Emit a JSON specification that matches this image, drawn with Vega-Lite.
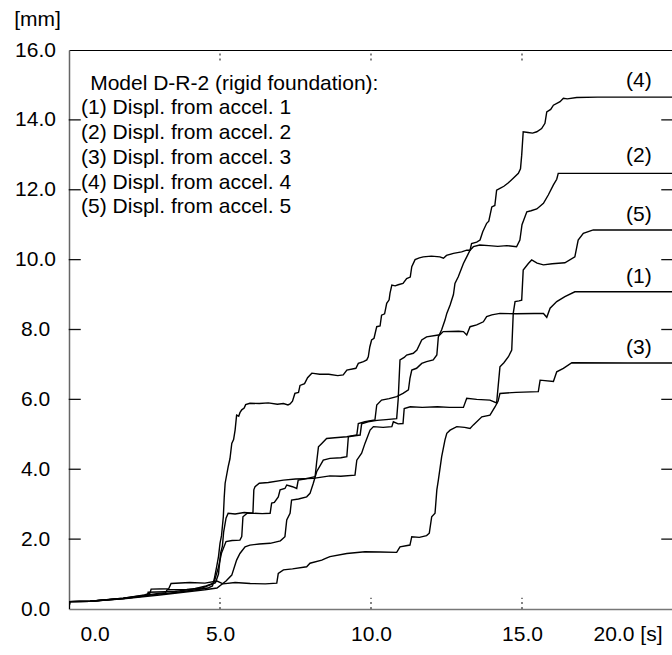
{
  "$schema": "https://vega.github.io/schema/vega-lite/v6.json",
  "autosize": "none",
  "padding": {"left": 69, "top": 50, "right": 0, "bottom": 46},
  "width": 604,
  "height": 559,
  "background": "white",
  "config": {
    "view": {"stroke": null},
    "font": "Liberation Sans",
    "axis": {"labelFont": "Liberation Sans", "labelFontSize": 21, "labelColor": "#000", "titleFont": "Liberation Sans", "grid": false}
  },
  "resolve": {"axis": {"x": "independent", "y": "independent"}},
  "layer": [
    {
      "data": {"values": [{"v": 2}, {"v": 4}, {"v": 6}, {"v": 8}, {"v": 10}, {"v": 12}, {"v": 14}]},
      "mark": {"type": "tick", "orient": "horizontal", "color": "#111", "thickness": 1.3, "size": 12, "opacity": 1},
      "encoding": {
        "y": {"field": "v", "type": "quantitative", "scale": {"domain": [0, 16], "nice": false, "zero": false}, "axis": null},
        "x": {"datum": 0.19, "type": "quantitative", "scale": {"domain": [0, 20], "nice": false, "zero": false}, "axis": null}
      }
    },
    {
      "data": {"values": [{"v": 2}, {"v": 4}, {"v": 6}, {"v": 8}, {"v": 10}, {"v": 12}, {"v": 14}]},
      "mark": {"type": "tick", "orient": "horizontal", "color": "#111", "thickness": 1.3, "size": 12, "opacity": 1},
      "encoding": {
        "y": {"field": "v", "type": "quantitative", "scale": {"domain": [0, 16], "nice": false, "zero": false}, "axis": null},
        "x": {"datum": 19.81, "type": "quantitative", "scale": {"domain": [0, 20], "nice": false, "zero": false}, "axis": null}
      }
    },
    {
      "data": {"values": [{"t": 5}, {"t": 10}, {"t": 15}]},
      "mark": {"type": "rule", "color": "#333", "strokeWidth": 1.2, "strokeDash": [2, 3]},
      "encoding": {
        "x": {"field": "t", "type": "quantitative", "scale": {"domain": [0, 20], "nice": false, "zero": false}, "axis": null},
        "y": {"datum": 0, "type": "quantitative", "scale": {"domain": [0, 16], "nice": false, "zero": false}, "axis": null},
        "y2": {"datum": 0.32}
      }
    },
    {
      "data": {"values": [{"t": 5}, {"t": 10}, {"t": 15}]},
      "mark": {"type": "rule", "color": "#333", "strokeWidth": 1.2, "strokeDash": [2, 3]},
      "encoding": {
        "x": {"field": "t", "type": "quantitative", "scale": {"domain": [0, 20], "nice": false, "zero": false}, "axis": null},
        "y": {"datum": 15.7, "type": "quantitative", "scale": {"domain": [0, 16], "nice": false, "zero": false}, "axis": null},
        "y2": {"datum": 16}
      }
    },
    {
      "data": {"values": [
        {"c":"4","t":0,"v":0},{"c":"4","t":0.02,"v":0.21},{"c":"4","t":0.7,"v":0.22},{"c":"4","t":1.8,"v":0.3},{"c":"4","t":2.9,"v":0.42},{"c":"4","t":3.6,"v":0.48},{"c":"4","t":4.2,"v":0.55},{"c":"4","t":4.6,"v":0.6},{"c":"4","t":4.75,"v":0.66},{"c":"4","t":4.82,"v":0.9},{"c":"4","t":4.89,"v":1.21},{"c":"4","t":4.95,"v":1.5},{"c":"4","t":5.0,"v":1.88},{"c":"4","t":5.05,"v":2.1},{"c":"4","t":5.11,"v":2.64},{"c":"4","t":5.14,"v":3.2},{"c":"4","t":5.17,"v":3.6},{"c":"4","t":5.27,"v":4.07},{"c":"4","t":5.33,"v":4.3},{"c":"4","t":5.39,"v":4.74},{"c":"4","t":5.45,"v":4.85},{"c":"4","t":5.5,"v":5.12},{"c":"4","t":5.55,"v":5.55},{"c":"4","t":5.62,"v":5.52},{"c":"4","t":5.66,"v":5.62},{"c":"4","t":5.72,"v":5.7},{"c":"4","t":5.8,"v":5.75},{"c":"4","t":5.85,"v":5.85},{"c":"4","t":5.99,"v":5.89},{"c":"4","t":6.3,"v":5.88},{"c":"4","t":6.6,"v":5.9},{"c":"4","t":6.9,"v":5.86},{"c":"4","t":7.1,"v":5.88},{"c":"4","t":7.25,"v":5.84},{"c":"4","t":7.32,"v":5.87},{"c":"4","t":7.4,"v":5.95},{"c":"4","t":7.48,"v":6.17},{"c":"4","t":7.6,"v":6.2},{"c":"4","t":7.65,"v":6.4},{"c":"4","t":7.8,"v":6.45},{"c":"4","t":7.9,"v":6.62},{"c":"4","t":8.04,"v":6.75},{"c":"4","t":8.3,"v":6.72},{"c":"4","t":8.6,"v":6.72},{"c":"4","t":8.9,"v":6.68},{"c":"4","t":9.08,"v":6.7},{"c":"4","t":9.2,"v":6.84},{"c":"4","t":9.5,"v":6.89},{"c":"4","t":9.58,"v":7.03},{"c":"4","t":9.75,"v":7.08},{"c":"4","t":9.86,"v":7.13},{"c":"4","t":9.91,"v":7.22},{"c":"4","t":9.96,"v":7.5},{"c":"4","t":10.02,"v":7.7},{"c":"4","t":10.1,"v":7.75},{"c":"4","t":10.19,"v":8.08},{"c":"4","t":10.3,"v":8.1},{"c":"4","t":10.35,"v":8.41},{"c":"4","t":10.45,"v":8.45},{"c":"4","t":10.52,"v":8.75},{"c":"4","t":10.6,"v":8.85},{"c":"4","t":10.63,"v":9.04},{"c":"4","t":10.69,"v":9.27},{"c":"4","t":10.8,"v":9.25},{"c":"4","t":10.9,"v":9.28},{"c":"4","t":11.06,"v":9.32},{"c":"4","t":11.18,"v":9.46},{"c":"4","t":11.3,"v":9.5},{"c":"4","t":11.35,"v":9.8},{"c":"4","t":11.46,"v":10.0},{"c":"4","t":11.6,"v":10.05},{"c":"4","t":11.73,"v":10.08},{"c":"4","t":12.0,"v":10.1},{"c":"4","t":12.28,"v":10.08},{"c":"4","t":12.4,"v":10.04},{"c":"4","t":12.5,"v":10.12},{"c":"4","t":12.73,"v":10.18},{"c":"4","t":13.0,"v":10.22},{"c":"4","t":13.17,"v":10.27},{"c":"4","t":13.28,"v":10.27},{"c":"4","t":13.33,"v":10.46},{"c":"4","t":13.5,"v":10.5},{"c":"4","t":13.61,"v":10.56},{"c":"4","t":13.7,"v":10.8},{"c":"4","t":13.83,"v":11.04},{"c":"4","t":13.9,"v":11.1},{"c":"4","t":14.0,"v":11.51},{"c":"4","t":14.1,"v":11.55},{"c":"4","t":14.16,"v":11.99},{"c":"4","t":14.27,"v":12.04},{"c":"4","t":14.4,"v":12.1},{"c":"4","t":14.55,"v":12.2},{"c":"4","t":14.71,"v":12.33},{"c":"4","t":14.88,"v":12.47},{"c":"4","t":14.95,"v":12.6},{"c":"4","t":14.99,"v":12.99},{"c":"4","t":15.04,"v":13.66},{"c":"4","t":15.2,"v":13.64},{"c":"4","t":15.35,"v":13.62},{"c":"4","t":15.49,"v":13.66},{"c":"4","t":15.65,"v":13.75},{"c":"4","t":15.76,"v":13.9},{"c":"4","t":15.82,"v":14.23},{"c":"4","t":15.95,"v":14.3},{"c":"4","t":16.04,"v":14.42},{"c":"4","t":16.26,"v":14.52},{"c":"4","t":16.37,"v":14.62},{"c":"4","t":16.5,"v":14.6},{"c":"4","t":16.81,"v":14.64},{"c":"4","t":17.5,"v":14.65},{"c":"4","t":18.5,"v":14.65},{"c":"4","t":20,"v":14.65},

        {"c":"2","t":0,"v":0},{"c":"2","t":0.02,"v":0.21},{"c":"2","t":0.7,"v":0.22},{"c":"2","t":1.8,"v":0.31},{"c":"2","t":2.9,"v":0.44},{"c":"2","t":3.2,"v":0.47},{"c":"2","t":3.25,"v":0.55},{"c":"2","t":3.9,"v":0.56},{"c":"2","t":4.4,"v":0.6},{"c":"2","t":4.7,"v":0.7},{"c":"2","t":4.85,"v":0.75},{"c":"2","t":4.95,"v":1.0},{"c":"2","t":5.02,"v":1.6},{"c":"2","t":5.08,"v":1.8},{"c":"2","t":5.12,"v":2.2},{"c":"2","t":5.2,"v":2.6},{"c":"2","t":5.27,"v":2.74},{"c":"2","t":5.5,"v":2.72},{"c":"2","t":5.8,"v":2.76},{"c":"2","t":6.1,"v":2.74},{"c":"2","t":6.4,"v":2.73},{"c":"2","t":6.66,"v":2.74},{"c":"2","t":6.71,"v":3.03},{"c":"2","t":6.8,"v":3.05},{"c":"2","t":6.93,"v":3.21},{"c":"2","t":6.99,"v":3.41},{"c":"2","t":7.15,"v":3.45},{"c":"2","t":7.21,"v":3.55},{"c":"2","t":7.4,"v":3.5},{"c":"2","t":7.54,"v":3.45},{"c":"2","t":7.59,"v":3.69},{"c":"2","t":7.8,"v":3.72},{"c":"2","t":8.0,"v":3.76},{"c":"2","t":8.15,"v":3.79},{"c":"2","t":8.2,"v":4.2},{"c":"2","t":8.26,"v":4.64},{"c":"2","t":8.37,"v":4.74},{"c":"2","t":8.53,"v":4.88},{"c":"2","t":8.8,"v":4.9},{"c":"2","t":9.2,"v":4.93},{"c":"2","t":9.53,"v":4.98},{"c":"2","t":9.58,"v":5.31},{"c":"2","t":9.8,"v":5.36},{"c":"2","t":10.13,"v":5.41},{"c":"2","t":10.19,"v":5.84},{"c":"2","t":10.35,"v":5.98},{"c":"2","t":10.6,"v":6.02},{"c":"2","t":10.85,"v":6.08},{"c":"2","t":11.06,"v":6.17},{"c":"2","t":11.24,"v":6.27},{"c":"2","t":11.29,"v":6.6},{"c":"2","t":11.35,"v":6.84},{"c":"2","t":11.51,"v":6.89},{"c":"2","t":11.68,"v":7.03},{"c":"2","t":11.84,"v":7.08},{"c":"2","t":12.06,"v":7.13},{"c":"2","t":12.18,"v":7.27},{"c":"2","t":12.23,"v":7.79},{"c":"2","t":12.34,"v":7.99},{"c":"2","t":12.45,"v":8.27},{"c":"2","t":12.51,"v":8.46},{"c":"2","t":12.62,"v":8.7},{"c":"2","t":12.73,"v":9.0},{"c":"2","t":12.78,"v":9.32},{"c":"2","t":12.89,"v":9.51},{"c":"2","t":13.06,"v":9.89},{"c":"2","t":13.17,"v":10.08},{"c":"2","t":13.28,"v":10.27},{"c":"2","t":13.39,"v":10.37},{"c":"2","t":13.6,"v":10.42},{"c":"2","t":13.9,"v":10.4},{"c":"2","t":14.2,"v":10.38},{"c":"2","t":14.5,"v":10.4},{"c":"2","t":14.82,"v":10.37},{"c":"2","t":14.93,"v":10.56},{"c":"2","t":15.0,"v":11.0},{"c":"2","t":15.16,"v":11.37},{"c":"2","t":15.3,"v":11.4},{"c":"2","t":15.49,"v":11.45},{"c":"2","t":15.71,"v":11.61},{"c":"2","t":15.87,"v":11.85},{"c":"2","t":16.04,"v":12.14},{"c":"2","t":16.15,"v":12.3},{"c":"2","t":16.2,"v":12.47},{"c":"2","t":17,"v":12.47},{"c":"2","t":18.5,"v":12.47},{"c":"2","t":20,"v":12.47},

        {"c":"5","t":0,"v":0},{"c":"5","t":0.02,"v":0.21},{"c":"5","t":0.7,"v":0.22},{"c":"5","t":1.8,"v":0.3},{"c":"5","t":2.6,"v":0.38},{"c":"5","t":2.62,"v":0.48},{"c":"5","t":3.5,"v":0.5},{"c":"5","t":4.1,"v":0.57},{"c":"5","t":4.5,"v":0.65},{"c":"5","t":4.8,"v":0.75},{"c":"5","t":4.95,"v":1.2},{"c":"5","t":5.05,"v":1.6},{"c":"5","t":5.2,"v":1.93},{"c":"5","t":5.4,"v":1.96},{"c":"5","t":5.66,"v":1.97},{"c":"5","t":5.72,"v":2.07},{"c":"5","t":5.76,"v":2.64},{"c":"5","t":5.9,"v":2.74},{"c":"5","t":6.09,"v":2.74},{"c":"5","t":6.12,"v":3.41},{"c":"5","t":6.16,"v":3.5},{"c":"5","t":6.3,"v":3.6},{"c":"5","t":6.6,"v":3.62},{"c":"5","t":7.1,"v":3.69},{"c":"5","t":7.5,"v":3.72},{"c":"5","t":8.09,"v":3.74},{"c":"5","t":8.64,"v":3.81},{"c":"5","t":9.0,"v":3.8},{"c":"5","t":9.47,"v":3.83},{"c":"5","t":9.53,"v":4.26},{"c":"5","t":9.69,"v":4.46},{"c":"5","t":9.8,"v":4.74},{"c":"5","t":9.97,"v":5.12},{"c":"5","t":10.08,"v":5.22},{"c":"5","t":10.4,"v":5.2},{"c":"5","t":10.69,"v":5.22},{"c":"5","t":10.74,"v":5.36},{"c":"5","t":10.9,"v":5.3},{"c":"5","t":11.06,"v":5.31},{"c":"5","t":11.1,"v":5.74},{"c":"5","t":11.3,"v":5.79},{"c":"5","t":11.7,"v":5.77},{"c":"5","t":12.2,"v":5.79},{"c":"5","t":12.6,"v":5.77},{"c":"5","t":13.06,"v":5.77},{"c":"5","t":13.17,"v":6.03},{"c":"5","t":13.5,"v":6.0},{"c":"5","t":13.94,"v":5.98},{"c":"5","t":14.16,"v":5.9},{"c":"5","t":14.27,"v":6.93},{"c":"5","t":14.4,"v":7.05},{"c":"5","t":14.55,"v":7.22},{"c":"5","t":14.66,"v":7.41},{"c":"5","t":14.71,"v":8.46},{"c":"5","t":14.77,"v":8.8},{"c":"5","t":14.9,"v":8.82},{"c":"5","t":14.99,"v":8.84},{"c":"5","t":15.04,"v":9.7},{"c":"5","t":15.21,"v":9.89},{"c":"5","t":15.32,"v":9.99},{"c":"5","t":15.5,"v":9.9},{"c":"5","t":15.71,"v":9.85},{"c":"5","t":16.0,"v":9.88},{"c":"5","t":16.42,"v":9.91},{"c":"5","t":16.75,"v":10.08},{"c":"5","t":16.86,"v":10.56},{"c":"5","t":17.03,"v":10.75},{"c":"5","t":17.36,"v":10.85},{"c":"5","t":18.5,"v":10.85},{"c":"5","t":20,"v":10.85},

        {"c":"1","t":0,"v":0},{"c":"1","t":0.02,"v":0.21},{"c":"1","t":0.7,"v":0.22},{"c":"1","t":1.8,"v":0.29},{"c":"1","t":3.0,"v":0.4},{"c":"1","t":4.0,"v":0.5},{"c":"1","t":4.5,"v":0.55},{"c":"1","t":4.9,"v":0.6},{"c":"1","t":5.2,"v":0.8},{"c":"1","t":5.39,"v":0.97},{"c":"1","t":5.55,"v":1.4},{"c":"1","t":5.66,"v":1.59},{"c":"1","t":5.83,"v":1.78},{"c":"1","t":5.99,"v":1.83},{"c":"1","t":6.3,"v":1.86},{"c":"1","t":6.66,"v":1.88},{"c":"1","t":7.0,"v":1.95},{"c":"1","t":7.15,"v":2.07},{"c":"1","t":7.21,"v":2.55},{"c":"1","t":7.32,"v":2.74},{"c":"1","t":7.37,"v":3.12},{"c":"1","t":7.6,"v":3.15},{"c":"1","t":7.87,"v":3.21},{"c":"1","t":7.98,"v":3.31},{"c":"1","t":8.09,"v":3.6},{"c":"1","t":8.2,"v":3.93},{"c":"1","t":8.42,"v":4.26},{"c":"1","t":8.64,"v":4.31},{"c":"1","t":9.0,"v":4.33},{"c":"1","t":9.2,"v":4.36},{"c":"1","t":9.25,"v":4.93},{"c":"1","t":9.4,"v":4.95},{"c":"1","t":9.64,"v":4.98},{"c":"1","t":9.69,"v":5.3},{"c":"1","t":9.9,"v":5.36},{"c":"1","t":10.2,"v":5.4},{"c":"1","t":10.5,"v":5.42},{"c":"1","t":10.85,"v":5.45},{"c":"1","t":10.9,"v":6.0},{"c":"1","t":10.96,"v":7.13},{"c":"1","t":11.1,"v":7.2},{"c":"1","t":11.18,"v":7.27},{"c":"1","t":11.4,"v":7.32},{"c":"1","t":11.52,"v":7.41},{"c":"1","t":11.68,"v":7.7},{"c":"1","t":11.84,"v":7.79},{"c":"1","t":12.28,"v":7.85},{"c":"1","t":12.39,"v":7.94},{"c":"1","t":12.9,"v":7.95},{"c":"1","t":13.06,"v":7.94},{"c":"1","t":13.17,"v":7.84},{"c":"1","t":13.28,"v":8.08},{"c":"1","t":13.5,"v":8.13},{"c":"1","t":13.72,"v":8.22},{"c":"1","t":13.83,"v":8.37},{"c":"1","t":14.0,"v":8.42},{"c":"1","t":14.27,"v":8.46},{"c":"1","t":14.8,"v":8.45},{"c":"1","t":15.4,"v":8.46},{"c":"1","t":15.71,"v":8.46},{"c":"1","t":15.82,"v":8.35},{"c":"1","t":15.93,"v":8.61},{"c":"1","t":16.15,"v":8.8},{"c":"1","t":16.42,"v":8.94},{"c":"1","t":16.75,"v":9.08},{"c":"1","t":18.5,"v":9.08},{"c":"1","t":20,"v":9.08},

        {"c":"3","t":0,"v":0},{"c":"3","t":0.02,"v":0.21},{"c":"3","t":0.7,"v":0.22},{"c":"3","t":1.8,"v":0.31},{"c":"3","t":2.5,"v":0.4},{"c":"3","t":2.68,"v":0.45},{"c":"3","t":2.72,"v":0.57},{"c":"3","t":3.3,"v":0.58},{"c":"3","t":3.38,"v":0.73},{"c":"3","t":4.0,"v":0.76},{"c":"3","t":4.5,"v":0.74},{"c":"3","t":4.9,"v":0.8},{"c":"3","t":5.1,"v":0.72},{"c":"3","t":5.5,"v":0.76},{"c":"3","t":6.0,"v":0.73},{"c":"3","t":6.5,"v":0.72},{"c":"3","t":6.88,"v":0.74},{"c":"3","t":6.93,"v":1.02},{"c":"3","t":7.1,"v":1.12},{"c":"3","t":7.4,"v":1.15},{"c":"3","t":7.87,"v":1.21},{"c":"3","t":7.98,"v":1.31},{"c":"3","t":8.37,"v":1.4},{"c":"3","t":8.5,"v":1.45},{"c":"3","t":8.64,"v":1.5},{"c":"3","t":9.2,"v":1.59},{"c":"3","t":9.8,"v":1.64},{"c":"3","t":10.3,"v":1.63},{"c":"3","t":10.85,"v":1.62},{"c":"3","t":10.96,"v":1.78},{"c":"3","t":11.29,"v":1.83},{"c":"3","t":11.35,"v":2.07},{"c":"3","t":11.6,"v":2.05},{"c":"3","t":11.84,"v":2.1},{"c":"3","t":11.93,"v":2.17},{"c":"3","t":12.01,"v":2.64},{"c":"3","t":12.12,"v":2.74},{"c":"3","t":12.18,"v":3.41},{"c":"3","t":12.23,"v":3.69},{"c":"3","t":12.34,"v":4.36},{"c":"3","t":12.45,"v":4.84},{"c":"3","t":12.51,"v":5.03},{"c":"3","t":12.62,"v":5.12},{"c":"3","t":12.84,"v":5.22},{"c":"3","t":13.1,"v":5.2},{"c":"3","t":13.28,"v":5.17},{"c":"3","t":13.39,"v":5.27},{"c":"3","t":13.67,"v":5.5},{"c":"3","t":13.94,"v":5.55},{"c":"3","t":14.11,"v":5.79},{"c":"3","t":14.21,"v":5.95},{"c":"3","t":14.27,"v":6.17},{"c":"3","t":14.8,"v":6.2},{"c":"3","t":15.54,"v":6.22},{"c":"3","t":15.6,"v":6.55},{"c":"3","t":16.04,"v":6.51},{"c":"3","t":16.15,"v":6.79},{"c":"3","t":16.37,"v":6.89},{"c":"3","t":16.65,"v":7.05},{"c":"3","t":18.5,"v":7.04},{"c":"3","t":20,"v":7.04}
      ]},
      "mark": {"type": "line", "color": "#000", "strokeWidth": 1.4, "clip": true},
      "encoding": {
        "x": {"field": "t", "type": "quantitative",
          "scale": {"domain": [0, 20], "nice": false, "zero": false},
          "axis": {"orient": "bottom", "values": [0, 5, 10, 15, 20], "title": null,
            "labelExpr": "datum.value == 20 ? '20.0 [s]' : format(datum.value, '.1f')",
            "labelFlush": true, "labelFlushOffset": -11, "labelOverlap": false,
            "ticks": false, "tickSize": 0, "labelPadding": 14, "labelBaseline": "top",
            "domainColor": "#777", "domainWidth": 1.5}},
        "y": {"field": "v", "type": "quantitative",
          "scale": {"domain": [0, 16], "nice": false, "zero": false},
          "axis": {"orient": "left", "values": [0, 2, 4, 6, 8, 10, 12, 14, 16], "format": ".1f",
            "labelAlign": "center", "labelBaseline": "middle", "ticks": false, "tickSize": 0, "labelPadding": 34, "labelOverlap": false,
            "domainColor": "#666", "domainWidth": 1.5,
            "title": "[mm]", "titleAngle": 0, "titleX": -32, "titleY": -25, "titleAlign": "center",
            "titleBaseline": "alphabetic", "titleFontSize": 21, "titleFontWeight": "normal", "titleColor": "#000"}},
        "detail": {"field": "c", "type": "nominal"}
      }
    },
    {
      "data": {"values": [
        {"t": 18.87, "v": 14.93, "label": "(4)"},
        {"t": 18.87, "v": 12.78, "label": "(2)"},
        {"t": 18.87, "v": 11.11, "label": "(5)"},
        {"t": 18.87, "v": 9.34, "label": "(1)"},
        {"t": 18.87, "v": 7.29, "label": "(3)"}
      ]},
      "mark": {"type": "text", "align": "center", "baseline": "alphabetic", "fontSize": 21, "font": "Liberation Sans", "color": "#000"},
      "encoding": {
        "x": {"field": "t", "type": "quantitative", "scale": {"domain": [0, 20], "nice": false, "zero": false},
          "axis": {"orient": "bottom", "offset": -559, "values": [5, 10, 15], "labels": false, "title": null, "ticks": false,
            "domainColor": "#000", "domainWidth": 1.2}},
        "y": {"field": "v", "type": "quantitative", "scale": {"domain": [0, 16], "nice": false, "zero": false}, "axis": null},
        "text": {"field": "label"}
      }
    },
    {
      "data": {"values": [
        {"t": 0.7, "v": 14.85, "label": "Model D-R-2 (rigid foundation):"},
        {"t": 0.4, "v": 14.17, "label": "(1) Displ. from accel. 1"},
        {"t": 0.4, "v": 13.45, "label": "(2) Displ. from accel. 2"},
        {"t": 0.4, "v": 12.74, "label": "(3) Displ. from accel. 3"},
        {"t": 0.4, "v": 12.02, "label": "(4) Displ. from accel. 4"},
        {"t": 0.4, "v": 11.33, "label": "(5) Displ. from accel. 5"}
      ]},
      "mark": {"type": "text", "align": "left", "baseline": "alphabetic", "fontSize": 21, "font": "Liberation Sans", "color": "#000"},
      "encoding": {
        "x": {"field": "t", "type": "quantitative", "scale": {"domain": [0, 20], "nice": false, "zero": false}, "axis": null},
        "y": {"field": "v", "type": "quantitative", "scale": {"domain": [0, 16], "nice": false, "zero": false}, "axis": null},
        "text": {"field": "label"}
      }
    }
  ]
}
